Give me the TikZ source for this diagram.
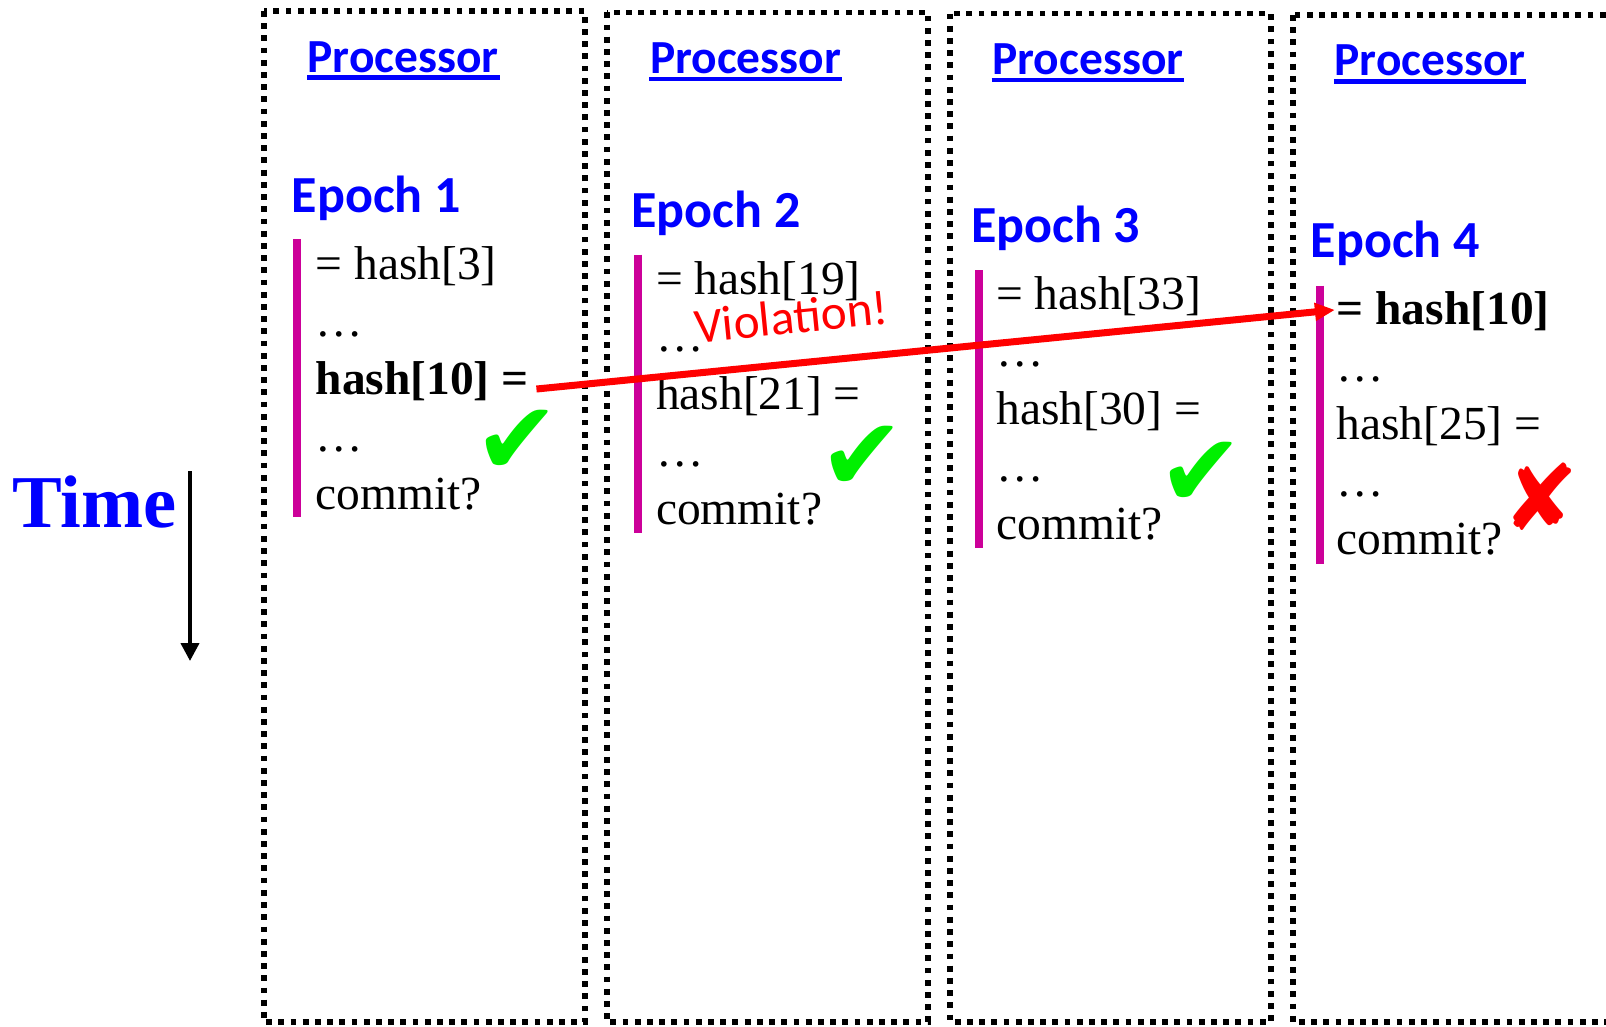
\documentclass[tikz,border=0pt]{standalone}
\usepackage{fontspec}
\setmainfont{Liberation Serif}
\newfontfamily\calibri{Carlito}
\newfontfamily\dejavu{DejaVu Sans}
\usetikzlibrary{arrows.meta,positioning}

\definecolor{procblue}{RGB}{0,0,255}
\definecolor{barmag}{RGB}{204,0,153}
\definecolor{okgreen}{RGB}{0,240,0}
\definecolor{badred}{RGB}{255,0,0}

\tikzset{
  procbox/.style={line width=0.055cm, dash pattern=on 0.058cm off 0.064cm},
  proclabel/.style={font=\calibri\bfseries\fontsize{13.5}{16}\selectfont, text=procblue, inner sep=0pt, anchor=base west},
  epochlabel/.style={font=\calibri\bfseries\fontsize{14.8}{18}\selectfont, text=procblue, inner sep=0pt, anchor=base west},
  codeline/.style={font=\fontsize{13.5}{16}\selectfont, inner sep=0pt, anchor=base west},
  epochbar/.style={barmag, line width=0.075cm},
  okmark/.style={font=\dejavu\fontsize{29}{32}\selectfont, text=okgreen, inner sep=0pt},
  badmark/.style={font=\dejavu\fontsize{26}{30}\selectfont, text=badred, inner sep=0pt},
  violation/.style={badred, line width=0.07cm, -{Triangle[length=0.2cm,width=0.17cm]}},
}

\begin{document}
\begin{tikzpicture}[x=0.01cm, y=-0.01cm]
    \useasboundingbox (0,0) rectangle (1606,1026);
    \clip (0,0) rectangle (1606,1026);

    % Time axis
    \node[font=\bfseries\fontsize{21.2}{24}\selectfont, text=procblue, inner sep=0pt, anchor=base east] (time) at (177,527) {Time};
    \coordinate (tstart) at (190,471);
    \coordinate (tend) at (190,661);
    \draw[-{Triangle[length=0.18cm,width=0.18cm]}, line width=0.04cm] (tstart) -- (tend);

    % One column per processor
    \foreach \i/\n/\first/\mid in {0/1/{= hash[3]}/{\textbf{hash[10] =}},
                                   1/2/{= hash[19]}/{hash[21] =},
                                   2/3/{= hash[33]}/{hash[30] =},
                                   3/4/{\textbf{= hash[10]}}/{hash[25] =}} {
        \draw[procbox] ({264+343*\i},{11+1.3*\i}) rectangle ({585+343*\i},1022);
        \node[proclabel] (proc\i) at ({307+342.3*\i},{72+1.3*\i}) {Processor};
        \draw[procblue, line width=0.045cm] ([yshift=-0.055cm]proc\i.base west) -- ([yshift=-0.055cm]proc\i.base east);
        \node[epochlabel] (epoch\i) at ({291+339.7*\i},{212+15.3*\i}) {Epoch \n};
        \draw[epochbar] ({297+341*\i},{239+15.5*\i}) -- ({297+341*\i},{517+15.5*\i});
        \node[codeline] (first\i) at ({315+340.3*\i},{279+15.3*\i}) {\first};
        \node[codeline] (dotsa\i) at ({315+340.3*\i},{336+15.3*\i}) {…};
        \node[codeline] (mid\i) at ({315+340.3*\i},{394+15.3*\i}) {\mid};
        \node[codeline] (dotsb\i) at ({315+340.3*\i},{451+15.3*\i}) {…};
        \node[codeline] (commit\i) at ({315+340.3*\i},{509+15.3*\i}) {commit?};
    }

    % Commit results
    \node[okmark] (ok0) at (517,442) {✔};
    \node[okmark] (ok1) at (862,458) {✔};
    \node[okmark] (ok2) at (1201,474) {✔};
    \node[badmark] (bad3) at (1541,497) {✘};

    % Violating read
    \draw[violation] ([xshift=0.07cm,yshift=0.05cm]mid0.base east) -- ([xshift=-0.01cm,yshift=0.15cm]first3.base west)
        node[pos=0.325, sloped, anchor=base, yshift=0.3cm, font=\calibri\fontsize{14}{16}\selectfont, text=badred, inner sep=0pt] (viol) {Violation!};
\end{tikzpicture}
\end{document}
